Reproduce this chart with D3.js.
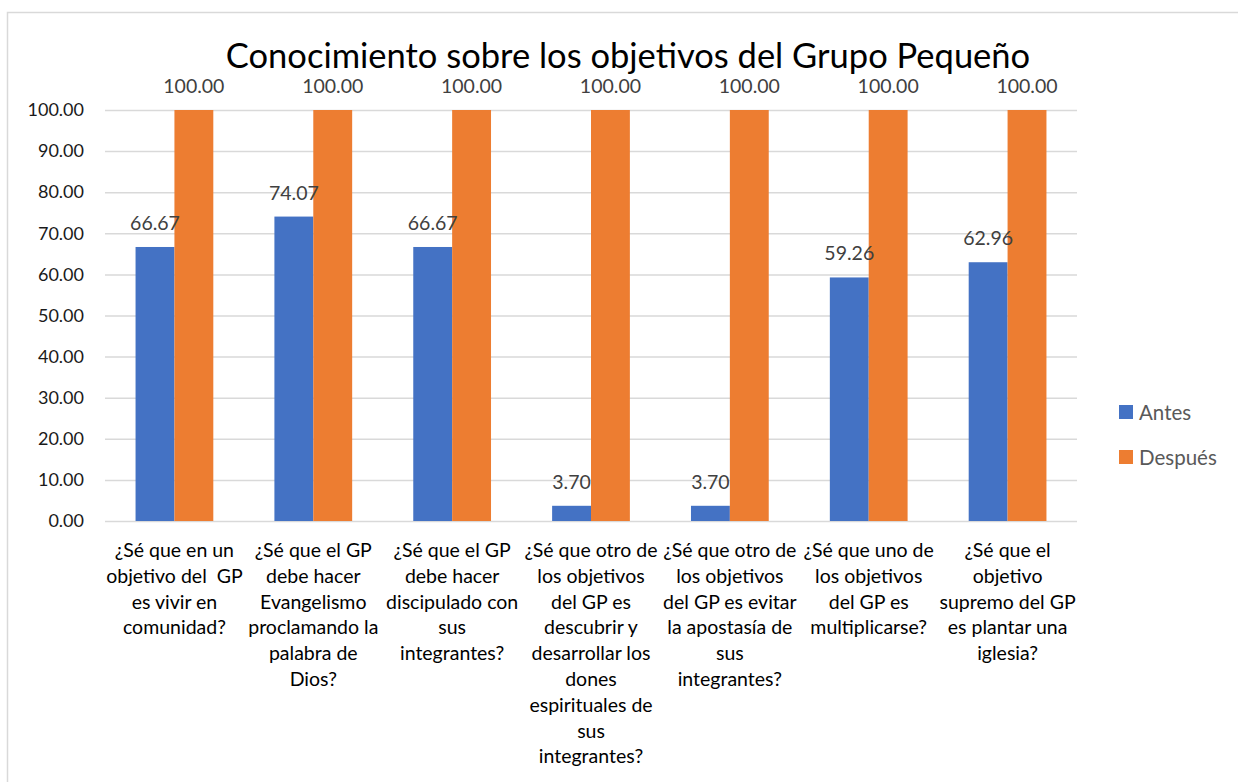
<!DOCTYPE html>
<html>
<head>
<meta charset="utf-8">
<title></title>
<style>
  body { margin: 0; background: #fff; }
</style>
</head>
<body>
<svg></svg>
<script src="https://d3js.org/d3.v7.min.js"></script>
<script type="text/javascript">
const categories = [
    "¿Sé que en un\nobjetivo del  GP\nes vivir en\ncomunidad?",
    "¿Sé que el GP\ndebe hacer\nEvangelismo\nproclamando la\npalabra de\nDios?",
    "¿Sé que el GP\ndebe hacer\ndiscipulado con\nsus\nintegrantes?",
    "¿Sé que otro de\nlos objetivos\ndel GP es\ndescubrir y\ndesarrollar los\ndones\nespirituales de\nsus\nintegrantes?",
    "¿Sé que otro de\nlos objetivos\ndel GP es evitar\nla apostasía de\nsus\nintegrantes?",
    "¿Sé que uno de\nlos objetivos\ndel GP es\nmultiplicarse?",
    "¿Sé que el\nobjetivo\nsupremo del GP\nes plantar una\niglesia?"
];
const series = ["Antes", "Después"];
const antes = [66.67, 74.07, 66.67, 3.70, 3.70, 59.26, 62.96];
const despues = [100, 100, 100, 100, 100, 100, 100];
const yTicks = [0, 10, 20, 30, 40, 50, 60, 70, 80, 90, 100];
const colors = ["#4472C4", "#ED7D31"];
const title = "Conocimiento sobre los objetivos del Grupo Pequeño";

const width = 1238, height = 782;
const values = [antes, despues];

const svg = d3.select("svg")
    .attr("width", width)
    .attr("height", height)
    .style("font-family", "Lato, 'Open Sans', sans-serif");

// chart frame
svg.append("rect")
    .attr("x", 7.5).attr("y", 12.5)
    .attr("width", 1250).attr("height", 800)
    .attr("fill", "#fff")
    .attr("stroke", "#d9d9d9")
    .attr("stroke-width", 1.5);

const x = d3.scaleBand()
    .domain(d3.range(categories.length))
    .range([105, 1077])
    .paddingInner(0.44)
    .paddingOuter(0.22);

const x1 = d3.scaleBand()
    .domain(series)
    .range([0, x.bandwidth()]);

const y = d3.scaleLinear()
    .domain([0, 100])
    .range([521, 110]);

// gridlines + y labels
const yAxis = d3.axisLeft(y)
    .tickValues(yTicks)
    .tickFormat(d3.format(".2f"))
    .tickSize(-(1077 - 105))
    .tickPadding(21);

const ga = svg.append("g")
    .attr("transform", "translate(105,0)")
    .call(yAxis);
ga.select(".domain").remove();
ga.selectAll(".tick line")
    .attr("stroke", "#d9d9d9")
    .attr("stroke-width", 1.5);
ga.selectAll(".tick text")
    .attr("fill", "#1a1a1a")
    .style("font-family", "Lato, sans-serif")
    .style("font-size", "18px");

// bars
const groups = svg.append("g")
    .selectAll("g")
    .data(categories.map((c, i) => i))
    .join("g")
    .attr("transform", i => `translate(${x(i)},0)`);

groups.selectAll("rect")
    .data(i => series.map((s, k) => ({ s: s, k: k, v: values[k][i] })))
    .join("rect")
    .attr("x", d => x1(d.s))
    .attr("y", d => y(d.v))
    .attr("width", x1.bandwidth())
    .attr("height", d => y(0) - y(d.v))
    .attr("fill", d => colors[d.k]);

// data labels
groups.selectAll("text.lbl")
    .data(i => series.map((s, k) => ({ s: s, k: k, v: values[k][i] })))
    .join("text")
    .attr("class", "lbl")
    .attr("x", d => x1(d.s) + x1.bandwidth() / 2)
    .attr("y", d => y(d.v) - 17)
    .attr("text-anchor", "middle")
    .attr("fill", "#404040")
    .style("font-size", "19.5px")
    .text(d => d3.format(".2f")(d.v));

// category labels
const cat = svg.append("g")
    .selectAll("text")
    .data(categories)
    .join("text")
    .attr("text-anchor", "middle")
    .attr("fill", "#000")
    .style("font-size", "19.5px")
    .attr("transform", (d, i) => `translate(${x(i) + x.bandwidth() / 2},557)`);

cat.selectAll("tspan")
    .data(d => d.split("\n"))
    .join("tspan")
    .attr("x", 0)
    .attr("y", (d, j) => j * 25.8)
    .style("white-space", "pre")
    .text(d => d);

// title
svg.append("text")
    .attr("x", 628)
    .attr("y", 68)
    .attr("text-anchor", "middle")
    .attr("fill", "#000")
    .style("font-size", "34.5px")
    .text(title);

// legend
const legend = svg.append("g")
    .selectAll("g")
    .data(series)
    .join("g")
    .attr("transform", (d, i) => `translate(1119,${412 + i * 45})`);

legend.append("rect")
    .attr("x", 0).attr("y", -7)
    .attr("width", 14).attr("height", 14)
    .attr("fill", (d, i) => colors[i]);

legend.append("text")
    .attr("x", 20)
    .attr("y", 7.5)
    .attr("fill", "#595959")
    .style("font-size", "20.5px")
    .text(d => d);
</script>
</body>
</html>
